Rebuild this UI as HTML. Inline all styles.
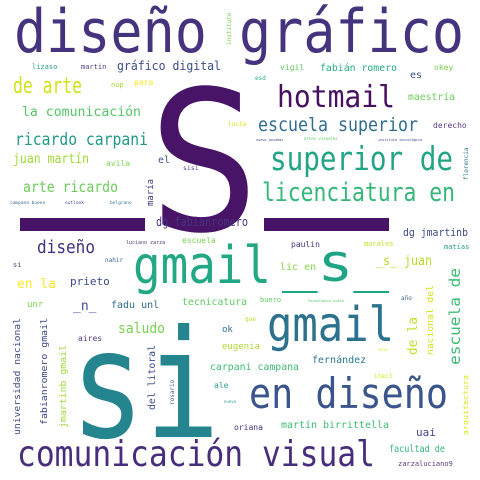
<!DOCTYPE html>
<html><head><meta charset="utf-8"><style>
html,body{margin:0;padding:0;background:#fff}
svg{display:block}
text{font-family:"DejaVu Sans Mono","Liberation Mono",monospace}
</style></head><body>
<svg width="480" height="480" viewBox="0 0 480 480">
<rect width="480" height="480" fill="#fff"/>
<g>
<text x="14" y="52" font-size="60" fill="#46337e" textLength="450" lengthAdjust="spacingAndGlyphs">diseño gráfico</text>
<text x="148" y="230" font-size="195" fill="#481467" textLength="112" lengthAdjust="spacingAndGlyphs">S</text>
<text x="277" y="107" font-size="30" fill="#471063" textLength="118" lengthAdjust="spacingAndGlyphs">hotmail</text>
<text x="258" y="131" font-size="19" fill="#2f6c8e" textLength="160" lengthAdjust="spacingAndGlyphs">escuela superior</text>
<text x="270" y="170" font-size="33" fill="#21a585" textLength="183" lengthAdjust="spacingAndGlyphs">superior de</text>
<text x="262" y="201" font-size="26" fill="#35b779" textLength="193" lengthAdjust="spacingAndGlyphs">licenciatura en</text>
<text x="13" y="93" font-size="22" fill="#d2e21b" textLength="69" lengthAdjust="spacingAndGlyphs">de arte</text>
<text x="117" y="70" font-size="12" fill="#3e4c8a" textLength="104" lengthAdjust="spacingAndGlyphs">gráfico digital</text>
<text x="22" y="116" font-size="13" fill="#55c667" textLength="119" lengthAdjust="spacingAndGlyphs">la comunicación</text>
<text x="15" y="145" font-size="17" fill="#1f9a8a" textLength="133" lengthAdjust="spacingAndGlyphs">ricardo carpani</text>
<text x="13" y="163" font-size="13" fill="#a0da39" textLength="76" lengthAdjust="spacingAndGlyphs">juan martín</text>
<text x="23" y="192" font-size="15" fill="#6ccd5a" textLength="95" lengthAdjust="spacingAndGlyphs">arte ricardo</text>
<text x="32" y="69" font-size="7" fill="#2a9d8f">lizaso</text>
<text x="81" y="69" font-size="7" fill="#5a3a80">martin</text>
<text x="111" y="87" font-size="7" fill="#a8db34">nop</text>
<text x="134" y="85" font-size="8" fill="#fde725">para</text>
<text x="106" y="166" font-size="8" fill="#7fd34e">avila</text>
<text x="158" y="163" font-size="10" fill="#3b528b">el</text>
<text x="183" y="170" font-size="6.5" fill="#5a3a80">sisi</text>
<text transform="translate(153,206) rotate(-90)" font-size="9" fill="#46337e">maría</text>
<text x="10" y="204" font-size="4.5" fill="#3b6c8e">campana bueno</text>
<text x="65" y="204" font-size="4.5" fill="#3e4c8a">outlook</text>
<text x="110" y="204" font-size="4.5" fill="#2a788e">belgrano</text>
<rect x="20" y="218" width="125" height="13" fill="#481467"/>
<rect x="264" y="218" width="125" height="13" fill="#481467"/>
<text x="156" y="226" font-size="12" fill="#46337e" textLength="92" lengthAdjust="spacingAndGlyphs">dg fabianromero</text>
<text x="126" y="244" font-size="5" fill="#5a3a80">luciano zarza</text>
<text x="182" y="243" font-size="8" fill="#7ad151">escuela</text>
<text x="403" y="236" font-size="11" fill="#3e4a89" textLength="65" lengthAdjust="spacingAndGlyphs">dg jmartinb</text>
<text x="37" y="253" font-size="18" fill="#46307e" textLength="58" lengthAdjust="spacingAndGlyphs">diseño</text>
<text x="133" y="283" font-size="52" fill="#22a884" textLength="138" lengthAdjust="spacingAndGlyphs">gmail</text>
<text x="282" y="281" font-size="52" fill="#20a486" textLength="107" lengthAdjust="spacingAndGlyphs">_s_</text>
<text x="13" y="267" font-size="7" fill="#5a3a80">si</text>
<text x="105" y="262" font-size="6" fill="#3b6c8e">nahir</text>
<text x="291" y="247" font-size="8" fill="#46337e">paulin</text>
<text x="364" y="246" font-size="7" fill="#c2df23">morales</text>
<text x="444" y="249" font-size="7" fill="#2a9d8f">matías</text>
<text x="17" y="288" font-size="13" fill="#fde725" textLength="39" lengthAdjust="spacingAndGlyphs">en la</text>
<text x="70" y="285" font-size="11" fill="#3e4989">prieto</text>
<text x="376" y="265" font-size="13" fill="#b5de2b" textLength="56" lengthAdjust="spacingAndGlyphs">_s_ juan</text>
<text x="280" y="270" font-size="10" fill="#86d549">lic en</text>
<text x="73" y="310" font-size="13" fill="#3e4c8a">_n_</text>
<text x="27" y="307" font-size="9" fill="#7ad151">unr</text>
<text x="111" y="308" font-size="10" fill="#2e6e8e">fadu unl</text>
<text x="182" y="305" font-size="10" fill="#5ec962" textLength="65" lengthAdjust="spacingAndGlyphs">tecnicatura</text>
<text x="260" y="302" font-size="7" fill="#5ec962">buero</text>
<text x="308" y="302" font-size="3.5" fill="#55c667">tecnológico nuevo</text>
<text x="401" y="300" font-size="6" fill="#3b6c8e">año</text>
<text x="267" y="341" font-size="48" fill="#2c718e" textLength="127" lengthAdjust="spacingAndGlyphs">gmail</text>
<text x="118" y="333" font-size="14" fill="#7ad151" textLength="47" lengthAdjust="spacingAndGlyphs">saludo</text>
<text x="222" y="332" font-size="9" fill="#2e6e8e">ok</text>
<text x="78" y="341" font-size="8" fill="#5a3a80">aires</text>
<text x="222" y="349" font-size="9" fill="#addc30">eugenia</text>
<text x="245" y="321" font-size="6" fill="#b8de29">que</text>
<text x="70" y="437" font-size="150" fill="#25858e" textLength="150" lengthAdjust="spacingAndGlyphs">si</text>
<text x="312" y="363" font-size="10" fill="#2a788e">fernández</text>
<text x="210" y="370" font-size="10" fill="#3fbc73" textLength="89" lengthAdjust="spacingAndGlyphs">carpani campana</text>
<text x="214" y="388" font-size="8" fill="#2a9d8f">ale</text>
<text transform="translate(174,405) rotate(-90)" font-size="6" fill="#3b6c8e">rosario</text>
<text x="224" y="403" font-size="4" fill="#2a9d8f">nuevo</text>
<text x="374" y="378" font-size="6" fill="#dce319">itec3</text>
<text x="378" y="351" font-size="4" fill="#dce319">osie</text>
<text x="249" y="408" font-size="42" fill="#3a548c" textLength="199" lengthAdjust="spacingAndGlyphs">en diseño</text>
<text x="17" y="466" font-size="36" fill="#472d7b" textLength="358" lengthAdjust="spacingAndGlyphs">comunicación visual</text>
<text x="281" y="428" font-size="10" fill="#3dbc74" textLength="108" lengthAdjust="spacingAndGlyphs">martín birrittella</text>
<text x="416" y="436" font-size="11" fill="#414487">uai</text>
<text x="234" y="430" font-size="8" fill="#46337e">oriana</text>
<text x="389" y="452" font-size="10" fill="#35b779" textLength="56" lengthAdjust="spacingAndGlyphs">facultad de</text>
<text x="398" y="466" font-size="7" fill="#5a3a80">zarzaluciano9</text>
<text transform="translate(155,410) rotate(-90)" font-size="10" fill="#3e4c8a" textLength="65" lengthAdjust="spacingAndGlyphs">del litoral</text>
<text transform="translate(20,435) rotate(-90)" font-size="9" fill="#3e4c8a" textLength="117" lengthAdjust="spacingAndGlyphs">universidad nacional</text>
<text transform="translate(47,425) rotate(-90)" font-size="9" fill="#3f4788" textLength="107" lengthAdjust="spacingAndGlyphs">fabianromero gmail</text>
<text transform="translate(66,428) rotate(-90)" font-size="9" fill="#a0da39" textLength="83" lengthAdjust="spacingAndGlyphs">jmartinb gmail</text>
<text transform="translate(460,365) rotate(-90)" font-size="15" fill="#3dbc74" textLength="97" lengthAdjust="spacingAndGlyphs">escuela de</text>
<text transform="translate(417,355) rotate(-90)" font-size="13" fill="#c0df25" textLength="38" lengthAdjust="spacingAndGlyphs">de la</text>
<text transform="translate(433,355) rotate(-90)" font-size="9" fill="#d8e219" textLength="70" lengthAdjust="spacingAndGlyphs">nacional del</text>
<text transform="translate(468,435) rotate(-90)" font-size="7" fill="#dce319" textLength="60" lengthAdjust="spacingAndGlyphs">arquitectura</text>
<text transform="translate(231,45) rotate(-90)" font-size="6" fill="#7ad151">instituto</text>
<text x="280" y="70" font-size="8" fill="#5ec962">vigil</text>
<text x="320" y="71" font-size="10" fill="#25ab82" textLength="77" lengthAdjust="spacingAndGlyphs">fabián romero</text>
<text x="434" y="70" font-size="8" fill="#7ad151">okey</text>
<text x="255" y="80" font-size="6" fill="#29af7f">esd</text>
<text x="410" y="78" font-size="10" fill="#3b528b">es</text>
<text x="408" y="100" font-size="10" fill="#6ccd5a" textLength="47" lengthAdjust="spacingAndGlyphs">maestría</text>
<text x="433" y="128" font-size="8" fill="#5a3a80">derecho</text>
<text x="228" y="126" font-size="6" fill="#dce319">lucía</text>
<text x="256" y="141" font-size="3.5" fill="#3e4c8a">nuevo posadas</text>
<text x="304" y="140" font-size="4" fill="#55c667">artes visuales</text>
<text x="378" y="141" font-size="3.5" fill="#3e4c8a">instituto tecnológico</text>
<text transform="translate(468,180) rotate(-90)" font-size="6" fill="#2a788e">florencia</text>
</g>
</svg>
</body></html>
